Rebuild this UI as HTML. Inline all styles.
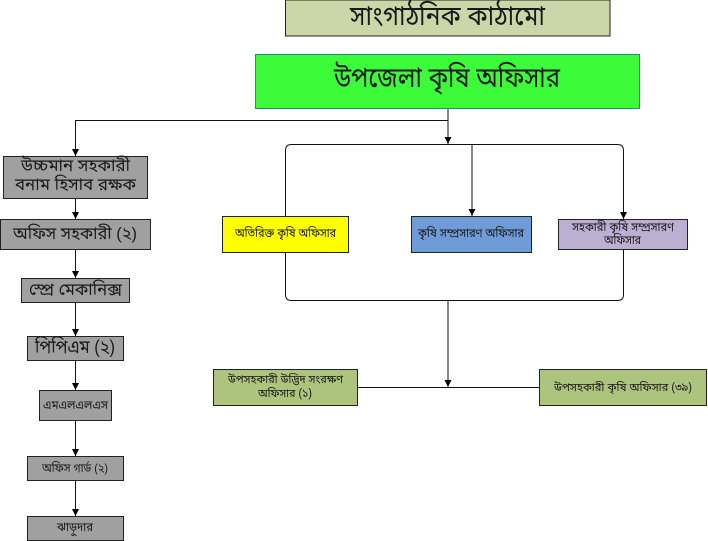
<!DOCTYPE html>
<html lang="bn"><head><meta charset="utf-8"><style>
html,body{margin:0;padding:0;background:#fff}
body{width:708px;height:541px;overflow:hidden}
svg{display:block}
text{font-family:"Liberation Sans","Noto Sans Bengali","Noto Sans CJK SC",sans-serif;text-anchor:middle;fill:#1a1a1a}
</style></head><body>
<svg width="708" height="541" viewBox="0 0 708 541" xmlns="http://www.w3.org/2000/svg">
<defs><marker id="a" markerWidth="8" markerHeight="8" refX="7" refY="3.500" orient="auto" markerUnits="userSpaceOnUse"><path d="M0 0L7 3.500L0 7Z" fill="#000"/></marker></defs>
<g fill="none" stroke="#111" stroke-width="1">
<path d="M448 108V144" marker-end="url(#a)"/>
<path d="M448 120.500H75.500V156" marker-end="url(#a)"/>
<path d="M75.500 198V219" marker-end="url(#a)"/>
<path d="M75.500 249V278" marker-end="url(#a)"/>
<path d="M75.500 302V336" marker-end="url(#a)"/>
<path d="M75.500 360V390" marker-end="url(#a)"/>
<path d="M75.500 420V456" marker-end="url(#a)"/>
<path d="M75.500 480V516" marker-end="url(#a)"/>
<path d="M285.500 216V150.500Q285.500 144.500 291.500 144.500H617.500Q623.500 144.500 623.500 150.500V219" marker-end="url(#a)"/>
<path d="M472 144.500V216" marker-end="url(#a)"/>
<path d="M285.500 252V294.500Q285.500 300.500 291.500 300.500H617.500Q623.500 300.500 623.500 294.500V249"/>
<path d="M448 300.500V387" marker-end="url(#a)"/>
<path d="M358 387.500H540"/>
</g>
<g stroke="#222" stroke-width="1">
<rect x="285.500" y="0" width="324.500" height="36" fill="#ccd7a9"/>
<rect x="255.500" y="54.500" width="384" height="54" fill="#3cfb38" stroke="#1f8f78"/>
<g fill="#a0a0a0">
<rect x="3.500" y="156.500" width="144" height="42"/>
<rect x="0.500" y="219.500" width="150" height="30"/>
<rect x="21.500" y="278.500" width="108" height="24"/>
<rect x="27.500" y="336.500" width="96" height="24"/>
<rect x="39.500" y="390.500" width="72" height="30"/>
<rect x="27.500" y="456.500" width="96" height="24"/>
<rect x="27.500" y="516.500" width="96" height="24"/>
</g>
<rect x="222.500" y="216.500" width="126" height="36" fill="#ffff00"/>
<rect x="411.500" y="216.500" width="120" height="36" fill="#6f9bd8"/>
<rect x="558.500" y="219.500" width="129" height="30" fill="#bdafd2"/>
<rect x="213.500" y="369.500" width="144" height="36" fill="#adc47f"/>
<rect x="539.500" y="369.500" width="167" height="36" fill="#adc47f"/>
</g>
<text x="447.500" y="25" font-size="27" textLength="195" lengthAdjust="spacingAndGlyphs">সাংগাঠনিক কাঠামো</text>
<text x="447" y="87" font-size="28" textLength="226" lengthAdjust="spacingAndGlyphs">উপজেলা কৃষি অফিসার</text>
<text x="75.500" y="171" font-size="17" textLength="109" lengthAdjust="spacingAndGlyphs">উচ্চমান সহকারী</text>
<text x="75.500" y="190" font-size="17" textLength="121" lengthAdjust="spacingAndGlyphs">বনাম হিসাব রক্ষক</text>
<text x="75" y="239" font-size="17" textLength="124" lengthAdjust="spacingAndGlyphs">অফিস সহকারী (২)</text>
<text x="75.500" y="295" font-size="16.500" textLength="93" lengthAdjust="spacingAndGlyphs">স্প্রে মেকানিক্স</text>
<text x="75" y="353" font-size="18" textLength="80" lengthAdjust="spacingAndGlyphs">পিপিএম (২)</text>
<text x="75.500" y="409" font-size="12" textLength="65" lengthAdjust="spacingAndGlyphs">এমএলএলএস</text>
<text x="75" y="472" font-size="12" textLength="66" lengthAdjust="spacingAndGlyphs">অফিস গার্ড (২)</text>
<text x="75" y="531" font-size="12" textLength="36" lengthAdjust="spacingAndGlyphs">ঝাড়ুদার</text>
<text x="285.500" y="237" font-size="12" textLength="101" lengthAdjust="spacingAndGlyphs">অতিরিক্ত কৃষি অফিসার</text>
<text x="471" y="237" font-size="12" textLength="106" lengthAdjust="spacingAndGlyphs">কৃষি সম্প্রসারণ অফিসার</text>
<text x="623" y="231" font-size="12" textLength="102" lengthAdjust="spacingAndGlyphs">সহকারী কৃষি সম্প্রসারণ</text>
<text x="622.500" y="244" font-size="12" textLength="37" lengthAdjust="spacingAndGlyphs">অফিসার</text>
<text x="285.500" y="383" font-size="11.500" textLength="115" lengthAdjust="spacingAndGlyphs">উপসহকারী উদ্ভিদ সংরক্ষণ</text>
<text x="285" y="397" font-size="11.500" textLength="54" lengthAdjust="spacingAndGlyphs">অফিসার (১)</text>
<text x="623" y="391" font-size="11.500" textLength="138" lengthAdjust="spacingAndGlyphs">উপসহকারী কৃষি অফিসার (৩৯)</text>
</svg>
</body></html>
